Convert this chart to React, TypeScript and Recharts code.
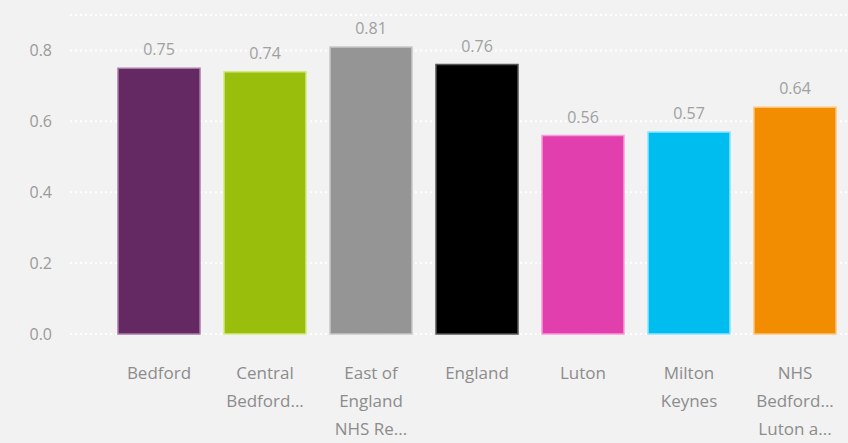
import { BarChart, Bar, XAxis, YAxis, CartesianGrid, Cell, LabelList } from 'recharts';

const CATEGORIES = [
  'Bedford',
  'Central Bedfordshire',
  'East of England NHS Region',
  'England',
  'Luton',
  'Milton Keynes',
  'NHS Bedfordshire, Luton and Milton Keynes',
];
const VALUES = [0.75, 0.74, 0.81, 0.76, 0.56, 0.57, 0.64];
// wrapped/truncated axis labels as shown under each bar
const TICK_LINES = [
  ['Bedford'],
  ['Central', 'Bedford...'],
  ['East of', 'England', 'NHS Re...'],
  ['England'],
  ['Luton'],
  ['Milton', 'Keynes'],
  ['NHS', 'Bedford...', 'Luton a...'],
];
const Y_TICKS = [0, 0.2, 0.4, 0.6, 0.8];

const FILLS = ['#642862', '#99bf0c', '#959595', '#000000', '#e03fad', '#00bdf0', '#f28c00'];
const EDGES = ['#a97aa8', '#d2ec7c', '#c8c8c8', '#555555', '#fb9ad8', '#8ee4ff', '#ffc478'];

const FONT = '"Segoe UI", "Open Sans", sans-serif';

const data = CATEGORIES.map((name, i) => ({ name, value: VALUES[i] }));

function CategoryTick(props: any) {
  const { x, y, index } = props;
  const lines = TICK_LINES[index] || [];
  return (
    <text x={x} y={y} textAnchor="middle" fill="#8c8c8c" fontSize={17} fontFamily={FONT}>
      {lines.map((line: string, i: number) => (
        <tspan key={i} x={x} dy={i === 0 ? 37 : 28}>
          {line}
        </tspan>
      ))}
    </text>
  );
}

export default function App() {
  return (
    <div style={{ position: 'absolute', left: 0, top: 0, width: 848, height: 443, background: '#f2f2f2' }}>
      <BarChart
        width={848}
        height={443}
        data={data}
        margin={{ top: 15, right: 0, bottom: 0, left: 0 }}
        barCategoryGap={12}
      >
        <CartesianGrid vertical={false} stroke="#ffffff" strokeWidth={2} strokeDasharray="2 3" />
        <XAxis
          dataKey="name"
          axisLine={false}
          tickLine={false}
          height={109}
          interval={0}
          padding={{ left: 36, right: 0 }}
          tick={<CategoryTick />}
        />
        <YAxis
          width={70}
          domain={[0, 0.9]}
          ticks={Y_TICKS}
          axisLine={false}
          tickLine={false}
          tickMargin={12}
          tickFormatter={(v: number) => v.toFixed(1)}
          tick={{ fill: '#9a9a9a', fontSize: 16, fontFamily: FONT }}
        />
        <Bar dataKey="value" isAnimationActive={false} strokeWidth={1.5}>
          {data.map((d, i) => (
            <Cell key={d.name} fill={FILLS[i]} stroke={EDGES[i]} />
          ))}
          <LabelList
            dataKey="value"
            position="top"
            offset={13}
            fill="#a0a0a0"
            fontSize={16}
            fontFamily={FONT}
          />
        </Bar>
      </BarChart>
    </div>
  );
}
